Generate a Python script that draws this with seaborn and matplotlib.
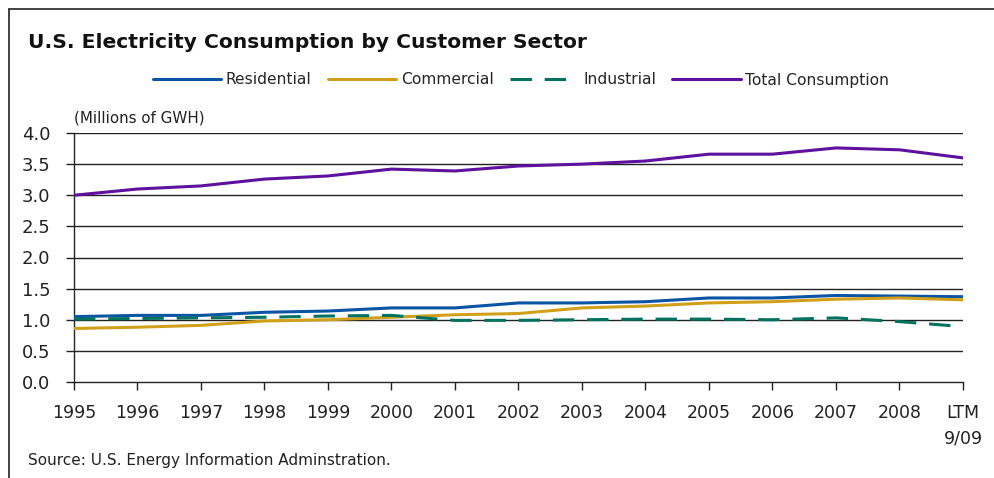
import matplotlib
matplotlib.use("Agg")
import matplotlib.pyplot as plt
import seaborn as sns
import pandas as pd
from matplotlib.lines import Line2D

categories = ["1995", "1996", "1997", "1998", "1999", "2000", "2001", "2002",
              "2003", "2004", "2005", "2006", "2007", "2008", "LTM\n9/09"]
residential = [1.05, 1.07, 1.07, 1.12, 1.14, 1.19, 1.19, 1.27, 1.27, 1.29, 1.35, 1.35, 1.39, 1.38, 1.37]
commercial = [0.86, 0.88, 0.91, 0.98, 1.00, 1.04, 1.08, 1.10, 1.19, 1.22, 1.27, 1.29, 1.33, 1.35, 1.32]
industrial = [1.01, 1.02, 1.03, 1.04, 1.06, 1.07, 0.99, 0.99, 1.00, 1.01, 1.01, 1.00, 1.03, 0.97, 0.89]
total = [3.00, 3.10, 3.15, 3.26, 3.31, 3.42, 3.39, 3.47, 3.50, 3.55, 3.66, 3.66, 3.76, 3.73, 3.60]
series_names = ["Residential", "Commercial", "Industrial", "Total Consumption"]
y_ticks = [0.0, 0.5, 1.0, 1.5, 2.0, 2.5, 3.0, 3.5, 4.0]

colors = {"Residential": "#0A55A3", "Commercial": "#D1A01A",
          "Industrial": "#00725F", "Total Consumption": "#5E109E"}
styles = {"Residential": "-", "Commercial": "-", "Industrial": (0, (7, 4.2)),
          "Total Consumption": "-"}

sns.set_theme(style="white")
plt.rcParams["font.family"] = ["DejaVu Sans"]

W, H = 995, 478
fig = plt.figure(figsize=(W / 100, H / 100), dpi=100)
ax = fig.add_axes([74 / W, 1 - 382 / H, (963 - 74) / W, (382 - 133) / H])

df = pd.DataFrame({"x": list(range(len(categories))) * 4,
                   "value": residential + commercial + industrial + total,
                   "series": sum([[n] * len(categories) for n in series_names], [])})

for name in series_names:
    sub = df[df["series"] == name]
    sns.lineplot(data=sub, x="x", y="value", ax=ax, color=colors[name],
                 linewidth=2.2, linestyle=styles[name], legend=False, zorder=3)

ax.set_xlim(0, len(categories) - 1)
ax.set_ylim(0, 4.0)
ax.set_yticks(y_ticks)
ax.set_yticklabels([f"{v:.1f}" for v in y_ticks], fontsize=13, color="#222222")
ax.set_xticks(range(len(categories)))
ax.set_xticklabels(categories, fontsize=12.5, color="#222222", linespacing=1.5)
ax.set_xlabel("")
ax.set_ylabel("")
for yv in y_ticks[1:]:
    ax.axhline(yv, color="#222222", linewidth=1.0, zorder=1)
for s in ["top", "right"]:
    ax.spines[s].set_visible(False)
for s in ["left", "bottom"]:
    ax.spines[s].set_visible(True)
    ax.spines[s].set_color("#222222")
    ax.spines[s].set_linewidth(1.0)
ax.tick_params(axis="y", which="major", direction="out", length=6, width=1,
               color="#222222", left=True, pad=11)
ax.tick_params(axis="x", which="major", direction="out", length=6, width=1,
               color="#222222", bottom=True, pad=10)
for lbl in ax.get_xticklabels():
    lbl.set_verticalalignment("top")

handles = [Line2D([0], [0], color=colors[n], linewidth=2.2, linestyle=styles[n])
           for n in series_names]
fig.legend(handles, series_names, loc="center", bbox_to_anchor=(521 / W, 1 - 80 / H),
           ncol=4, frameon=False, fontsize=11.2, handlelength=4.4,
           handletextpad=0.3, columnspacing=1.05)

fig.text(28 / W, 1 - 42 / H, "U.S. Electricity Consumption by Customer Sector",
         fontsize=14.6, fontweight="bold", color="#111111", va="center", ha="left")
fig.text(74 / W, 1 - 118 / H, "(Millions of GWH)", fontsize=10.9,
         color="#222222", va="center", ha="left")
fig.text(28 / W, 1 - 460 / H, "Source: U.S. Energy Information Adminstration.",
         fontsize=11, color="#222222", va="center", ha="left")

fig.add_artist(Line2D([9 / W, 1], [1 - 9 / H, 1 - 9 / H], color="#222222",
                      linewidth=1.2, transform=fig.transFigure))
fig.add_artist(Line2D([9 / W, 9 / W], [0, 1 - 9 / H], color="#222222",
                      linewidth=1.2, transform=fig.transFigure))

fig.savefig("out.png", dpi=100)
